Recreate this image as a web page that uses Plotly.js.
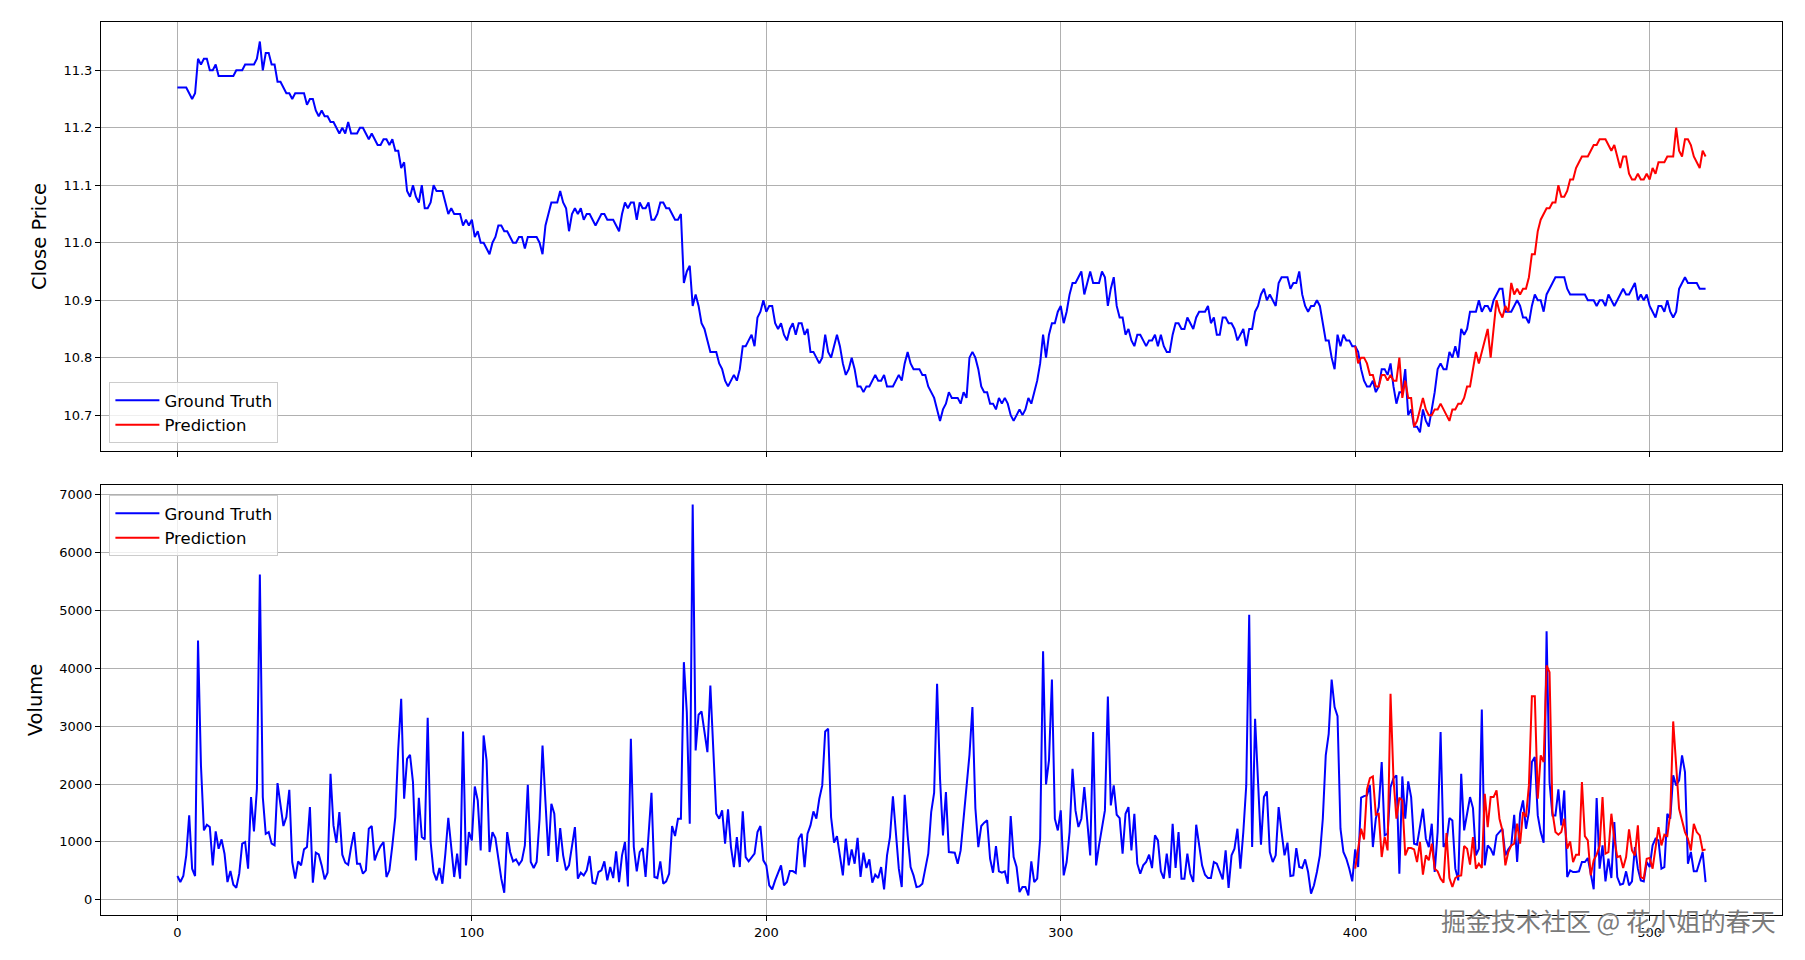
<!DOCTYPE html>
<html>
<head>
<meta charset="utf-8">
<script src="https://cdn.plot.ly/plotly-3.0.1.min.js"></script>
<style>html,body{margin:0;padding:0;background:#fff;}#chart{width:1805px;height:960px;}</style>
</head>
<body>
<div id="chart"></div>
<script>
// ---- Data ----
const predStart = 400;

const closeTruth = [
11.27,11.27,11.27,11.27,11.26,11.25,11.26,11.32,11.31,11.32,
11.32,11.30,11.30,11.31,11.29,11.29,11.29,11.29,11.29,11.29,
11.30,11.30,11.30,11.31,11.31,11.31,11.31,11.32,11.35,11.30,
11.33,11.33,11.31,11.31,11.28,11.28,11.27,11.26,11.26,11.25,
11.26,11.26,11.26,11.26,11.24,11.25,11.25,11.23,11.22,11.23,
11.22,11.22,11.21,11.21,11.20,11.19,11.20,11.19,11.21,11.19,
11.19,11.19,11.20,11.20,11.19,11.18,11.19,11.18,11.17,11.17,
11.18,11.18,11.17,11.18,11.16,11.16,11.13,11.14,11.09,11.08,
11.10,11.08,11.07,11.10,11.06,11.06,11.07,11.10,11.09,11.09,
11.09,11.07,11.05,11.06,11.05,11.05,11.05,11.03,11.04,11.03,
11.04,11.01,11.02,11.00,11.00,10.99,10.98,11.00,11.01,11.03,
11.03,11.02,11.02,11.01,11.00,11.00,11.01,11.01,10.99,11.01,
11.01,11.01,11.01,11.00,10.98,11.03,11.05,11.07,11.07,11.07,
11.09,11.07,11.06,11.02,11.05,11.06,11.05,11.06,11.04,11.05,
11.05,11.04,11.03,11.04,11.05,11.05,11.04,11.04,11.04,11.03,
11.02,11.05,11.07,11.06,11.07,11.07,11.04,11.07,11.06,11.06,
11.07,11.04,11.04,11.05,11.07,11.07,11.06,11.06,11.05,11.04,
11.04,11.05,10.93,10.95,10.96,10.89,10.91,10.89,10.86,10.85,
10.83,10.81,10.81,10.81,10.79,10.78,10.76,10.75,10.76,10.77,
10.76,10.78,10.82,10.82,10.83,10.84,10.82,10.87,10.88,10.90,
10.88,10.89,10.89,10.86,10.85,10.86,10.84,10.83,10.85,10.86,
10.84,10.86,10.86,10.84,10.85,10.81,10.81,10.80,10.79,10.80,
10.84,10.81,10.80,10.82,10.84,10.82,10.79,10.77,10.78,10.80,
10.78,10.75,10.75,10.74,10.75,10.75,10.76,10.77,10.76,10.76,
10.77,10.75,10.75,10.75,10.76,10.77,10.76,10.79,10.81,10.79,
10.78,10.78,10.78,10.77,10.77,10.75,10.74,10.73,10.71,10.69,
10.71,10.72,10.74,10.73,10.73,10.73,10.72,10.74,10.73,10.80,
10.81,10.80,10.78,10.75,10.74,10.74,10.72,10.72,10.71,10.73,
10.72,10.73,10.72,10.70,10.69,10.70,10.71,10.70,10.71,10.73,
10.72,10.74,10.76,10.79,10.84,10.80,10.84,10.86,10.86,10.88,
10.89,10.86,10.88,10.91,10.93,10.93,10.94,10.95,10.91,10.93,
10.95,10.93,10.93,10.93,10.95,10.94,10.89,10.92,10.94,10.89,
10.87,10.87,10.84,10.85,10.83,10.82,10.84,10.84,10.83,10.82,
10.83,10.83,10.84,10.82,10.84,10.82,10.81,10.81,10.84,10.86,
10.86,10.85,10.85,10.87,10.86,10.85,10.87,10.88,10.88,10.88,
10.89,10.86,10.87,10.84,10.84,10.87,10.87,10.86,10.86,10.85,
10.83,10.84,10.85,10.82,10.85,10.85,10.88,10.89,10.91,10.92,
10.90,10.91,10.90,10.89,10.93,10.94,10.94,10.94,10.92,10.93,
10.93,10.95,10.91,10.89,10.88,10.89,10.89,10.90,10.89,10.86,
10.83,10.83,10.80,10.78,10.84,10.82,10.84,10.83,10.83,10.82,
10.82,10.81,10.78,10.76,10.75,10.75,10.76,10.74,10.75,10.78,
10.78,10.77,10.79,10.75,10.72,10.74,10.74,10.78,10.70,10.71,
10.68,10.68,10.67,10.71,10.69,10.68,10.71,10.74,10.78,10.79,
10.78,10.78,10.81,10.80,10.82,10.80,10.85,10.84,10.85,10.88,
10.88,10.88,10.90,10.88,10.89,10.89,10.88,10.90,10.91,10.92,
10.92,10.88,10.88,10.88,10.89,10.90,10.89,10.87,10.87,10.86,
10.89,10.91,10.90,10.90,10.88,10.91,10.92,10.93,10.94,10.94,
10.94,10.94,10.92,10.91,10.91,10.91,10.91,10.91,10.91,10.90,
10.90,10.90,10.89,10.90,10.90,10.89,10.91,10.90,10.89,10.90,
10.91,10.92,10.91,10.91,10.92,10.93,10.90,10.91,10.90,10.91,
10.89,10.88,10.87,10.89,10.89,10.88,10.90,10.88,10.87,10.88,
10.92,10.93,10.94,10.93,10.93,10.93,10.93,10.92,10.92,10.92
];

const closePred = [
10.82,10.79,10.80,10.80,10.79,10.77,10.77,10.75,10.75,10.77,
10.77,10.76,10.77,10.76,10.76,10.80,10.73,10.76,10.73,10.73,
10.68,10.69,10.71,10.73,10.71,10.70,10.70,10.71,10.71,10.72,
10.71,10.70,10.69,10.71,10.71,10.72,10.72,10.73,10.75,10.75,
10.78,10.81,10.79,10.81,10.83,10.85,10.80,10.85,10.90,10.88,
10.87,10.89,10.88,10.93,10.91,10.92,10.91,10.92,10.92,10.94,
10.98,10.98,11.02,11.04,11.05,11.06,11.06,11.07,11.07,11.10,
11.08,11.08,11.09,11.11,11.11,11.13,11.14,11.15,11.15,11.15,
11.16,11.17,11.17,11.18,11.18,11.18,11.17,11.16,11.17,11.15,
11.13,11.15,11.15,11.12,11.11,11.11,11.12,11.11,11.11,11.12,
11.11,11.13,11.12,11.14,11.14,11.14,11.15,11.15,11.15,11.20,
11.16,11.15,11.18,11.18,11.17,11.15,11.14,11.13,11.16,11.15
];

const volumeTruth = [
409,305,409,766,1457,536,409,4481,2321,1198,
1296,1256,593,1181,881,1043,795,305,495,259,
207,449,968,997,536,1774,1181,1918,5622,1774,
1140,1169,968,939,2016,1642,1273,1428,1901,651,
363,662,593,870,910,1601,294,812,783,593,
351,467,2177,1284,985,1515,778,639,605,910,
1169,622,622,449,507,1227,1273,680,824,927,
997,392,507,939,1428,2609,3473,1745,2436,2506,
2033,680,1763,1083,1043,3145,997,478,334,547,
276,795,1417,910,392,795,363,2909,593,1169,
1025,1958,1716,852,2840,2408,824,1169,1066,708,
363,121,1169,824,662,697,605,680,939,1987,
651,547,651,1400,2667,1688,755,1659,1486,651,
1238,766,507,593,968,1256,363,467,420,507,
755,294,276,478,507,662,334,564,374,835,
305,766,997,230,2782,910,490,824,893,392,
1112,1849,392,374,662,276,317,449,1273,1100,
1400,1400,4107,3243,1313,6831,2580,3197,3254,2897,
2552,3704,2552,1486,1400,1544,968,1561,910,564,
1083,564,1526,737,662,737,795,1169,1273,680,
593,248,179,334,478,593,248,305,495,495,
461,1054,1140,564,1140,1284,1526,1400,1745,1976,
2909,2955,1428,985,1100,766,420,1054,593,870,
622,1071,392,812,547,697,294,432,374,564,
179,766,1083,1786,1112,536,219,1814,1112,564,
420,219,230,276,536,795,1515,1849,3732,2091,
1112,1860,824,824,812,622,852,1400,1918,2506,
3329,1584,910,1273,1331,1371,708,467,927,490,
467,490,276,1446,737,564,132,219,219,75,
662,305,363,1054,4297,1993,2408,3807,1400,1198,
1544,420,651,1169,2264,1544,1256,1400,1947,1371,
766,2897,593,939,1227,1544,3514,1630,1976,1469,
1411,795,1486,1601,852,1486,622,449,593,651,
778,547,1112,1025,490,363,795,374,1313,547,
1169,363,363,795,449,305,1296,968,593,432,
374,374,651,622,478,351,852,202,766,881,
1227,536,1169,1976,4925,910,3128,2149,950,1774,
1872,824,651,766,1601,1169,766,985,409,420,
893,564,547,697,478,104,248,478,766,1400,
2494,2868,3807,3329,3174,1227,824,708,536,317,
870,564,1763,1791,1803,1976,910,1400,1601,2379,
1112,1140,1947,2100,2149,449,2131,1400,2045,1774,
968,950,1227,1572,1054,910,1313,478,1169,2897,
910,997,1411,1371,536,334,2177,1198,1486,1774,
1584,766,881,3289,593,939,881,766,1112,1169,
1227,766,870,939,1469,651,1486,1716,1227,1515,
2379,2465,1457,1169,985,4643,2033,1457,1457,1907,
1284,1889,392,507,478,478,490,651,651,720,
467,179,1757,536,939,317,708,374,1342,392,
259,276,490,248,317,910,536,334,317,651,
564,939,1054,1025,536,564,1486,1400,2149,1976,
2062,2494,2206,622,824,490,490,651,824,305
];

const volumePred = [
536,852,1227,1043,1907,2103,2131,1469,1486,737,
1083,852,3560,2091,1400,1763,1716,766,893,893,
870,651,997,432,766,680,968,536,490,363,
294,1152,374,219,374,409,420,927,881,605,
1083,536,622,547,1832,1256,1774,1774,1889,1400,
1198,593,824,939,968,1313,968,1515,1428,1976,
3519,3519,1745,2494,2379,4049,3934,1515,1169,1123,
1169,1400,881,1008,651,778,778,2033,1100,1025,
420,680,778,927,1774,795,824,1486,1054,737,
755,547,737,1215,852,766,1284,392,363,708,
720,536,939,1256,939,1123,1100,1486,3082,2235,
1572,1371,1169,1054,852,1313,1169,1112,852,870
];

const seriesNames = ["Ground Truth", "Prediction"];
const closeTicks = [10.7, 10.8, 10.9, 11.0, 11.1, 11.2, 11.3];
const volumeTicks = [0, 1000, 2000, 3000, 4000, 5000, 6000, 7000];
const xTicks = [0, 100, 200, 300, 400, 500];
const watermark = "掘金技术社区 @ 花小姐的春天";

// ---- Build ----
const xTruth = closeTruth.map((_, i) => i);
const xPred = closePred.map((_, i) => predStart + i);
const font = "DejaVu Sans, Liberation Sans, sans-serif";
const blue = "#0000ff", red = "#ff0000";

const traces = [
  {x: xTruth, y: closeTruth, type: "scatter", mode: "lines", name: seriesNames[0],
   line: {color: blue, width: 2}, xaxis: "x", yaxis: "y", legend: "legend"},
  {x: xPred, y: closePred, type: "scatter", mode: "lines", name: seriesNames[1],
   line: {color: red, width: 2}, xaxis: "x", yaxis: "y", legend: "legend"},
  {x: xTruth, y: volumeTruth, type: "scatter", mode: "lines", name: seriesNames[0],
   line: {color: blue, width: 2}, xaxis: "x2", yaxis: "y2", legend: "legend2"},
  {x: xPred, y: volumePred, type: "scatter", mode: "lines", name: seriesNames[1],
   line: {color: red, width: 2}, xaxis: "x2", yaxis: "y2", legend: "legend2"}
];

const axisCommon = {
  showgrid: true, gridcolor: "#b0b0b0", gridwidth: 1,
  showline: true, mirror: true, linecolor: "#000", linewidth: 1,
  ticks: "outside", ticklen: 5, tickcolor: "#000", tickwidth: 1,
  zeroline: false, tickfont: {family: font, size: 13, color: "#000"}
};

const legendCommon = {
  xanchor: "left", bgcolor: "rgba(255,255,255,0.8)", bordercolor: "#cccccc",
  borderwidth: 1, font: {family: font, size: 16.5, color: "#000"}, itemwidth: 44
};

const layout = {
  width: 1805, height: 960,
  margin: {l: 101, r: 23, t: 22, b: 45},
  paper_bgcolor: "#fff", plot_bgcolor: "#fff",
  font: {family: font, color: "#000"},
  xaxis: Object.assign({}, axisCommon, {domain: [0, 1], anchor: "y", range: [-25.95, 544.95],
    tickvals: xTicks, showticklabels: false}),
  xaxis2: Object.assign({}, axisCommon, {domain: [0, 1], anchor: "y2", range: [-25.95, 544.95],
    tickvals: xTicks}),
  yaxis: Object.assign({}, axisCommon, {domain: [0.5196, 1], anchor: "x", range: [10.6376, 11.384],
    tickvals: closeTicks, tickformat: ".1f",
    title: {text: "Close Price", font: {family: font, size: 19.5}, standoff: 11}}),
  yaxis2: Object.assign({}, axisCommon, {domain: [0, 0.4815], anchor: "x2", range: [-265, 7170],
    tickvals: volumeTicks,
    title: {text: "Volume", font: {family: font, size: 19.5}, standoff: 11}}),
  legend: Object.assign({}, legendCommon, {x: 0.005, y: 0.5286, yanchor: "bottom"}),
  legend2: Object.assign({}, legendCommon, {x: 0.005, y: 0.4703, yanchor: "top"}),
  showlegend: true,
  annotations: [{
    text: watermark, xref: "paper", yref: "paper", x: 0.9976, y: -0.0056,
    xanchor: "right", yanchor: "middle", showarrow: false,
    font: {family: "Noto Sans CJK SC", size: 25, color: "#7a7a7a", shadow: "1px 1px 1px #ffffff"}
  }]
};

Plotly.newPlot("chart", traces, layout, {displayModeBar: false, staticPlot: true});
</script>
</body>
</html>
